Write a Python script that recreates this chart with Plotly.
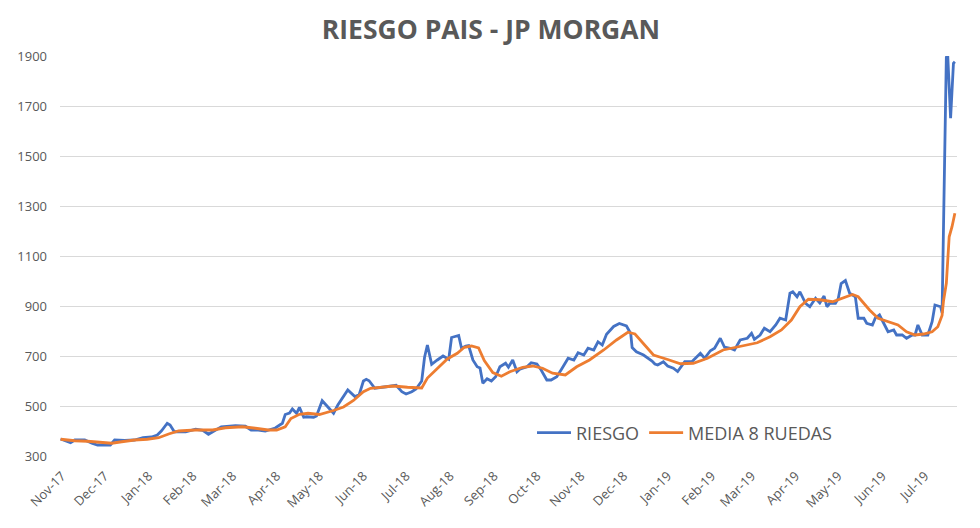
import plotly.graph_objects as go

# ---- data ----
riesgo_dates = [
    "2017-10-31", "2017-11-03", "2017-11-07", "2017-11-10", "2017-11-17", "2017-11-22", "2017-11-26",
    "2017-12-05", "2017-12-08", "2017-12-15", "2017-12-22", "2017-12-28",
    "2018-01-03", "2018-01-07", "2018-01-10", "2018-01-14", "2018-01-16", "2018-01-19", "2018-01-27",
    "2018-02-03", "2018-02-08", "2018-02-12", "2018-02-17", "2018-02-21",
    "2018-03-03", "2018-03-10", "2018-03-14", "2018-03-19", "2018-03-24", "2018-03-31",
    "2018-04-05", "2018-04-07", "2018-04-10", "2018-04-12", "2018-04-15", "2018-04-17", "2018-04-20",
    "2018-04-22", "2018-04-27", "2018-04-29",
    "2018-05-03", "2018-05-07", "2018-05-11", "2018-05-14", "2018-05-18", "2018-05-21", "2018-05-26",
    "2018-05-29",
    "2018-06-01", "2018-06-03", "2018-06-05", "2018-06-09", "2018-06-17", "2018-06-24", "2018-06-28",
    "2018-07-01", "2018-07-05", "2018-07-08", "2018-07-12", "2018-07-14", "2018-07-16", "2018-07-19",
    "2018-07-23", "2018-07-27", "2018-07-31",
    "2018-08-02", "2018-08-07", "2018-08-09", "2018-08-12", "2018-08-14", "2018-08-17", "2018-08-20",
    "2018-08-22", "2018-08-24", "2018-08-27", "2018-08-30",
    "2018-09-02", "2018-09-05", "2018-09-09", "2018-09-11", "2018-09-14", "2018-09-17", "2018-09-19",
    "2018-09-24", "2018-09-27",
    "2018-10-01", "2018-10-04", "2018-10-08", "2018-10-11", "2018-10-15", "2018-10-18", "2018-10-23",
    "2018-10-27", "2018-10-30",
    "2018-11-03", "2018-11-06", "2018-11-10", "2018-11-13", "2018-11-16", "2018-11-19", "2018-11-24",
    "2018-11-28",
    "2018-12-03", "2018-12-06", "2018-12-07", "2018-12-10", "2018-12-15", "2018-12-21", "2018-12-23",
    "2018-12-25", "2018-12-29",
    "2019-01-01", "2019-01-05", "2019-01-08", "2019-01-13", "2019-01-18", "2019-01-24", "2019-01-27",
    "2019-01-31",
    "2019-02-03", "2019-02-07", "2019-02-10", "2019-02-14", "2019-02-17", "2019-02-21", "2019-02-26",
    "2019-03-01", "2019-03-03", "2019-03-07", "2019-03-10", "2019-03-14", "2019-03-18", "2019-03-21",
    "2019-03-25", "2019-03-28", "2019-03-30",
    "2019-04-02", "2019-04-04", "2019-04-08", "2019-04-11", "2019-04-15", "2019-04-18", "2019-04-21",
    "2019-04-23", "2019-04-25", "2019-04-29",
    "2019-05-01", "2019-05-03", "2019-05-06", "2019-05-09", "2019-05-13", "2019-05-15", "2019-05-19",
    "2019-05-21", "2019-05-25", "2019-05-27", "2019-05-30",
    "2019-06-02", "2019-06-05", "2019-06-09", "2019-06-11", "2019-06-15", "2019-06-18", "2019-06-22",
    "2019-06-24", "2019-06-26", "2019-06-29",
    "2019-07-03", "2019-07-06", "2019-07-08", "2019-07-12", "2019-07-13", "2019-07-16", "2019-07-17",
    "2019-07-19", "2019-07-21", "2019-07-22",
]
riesgo_values = [
    368, 362, 353, 364, 364, 351, 344,
    344, 364, 362, 364, 373,
    376, 384, 401, 431, 424, 397, 397,
    407, 403, 387, 404, 417,
    421, 419, 404, 404, 400, 412,
    431, 466, 472, 488, 471, 495, 455,
    457, 455, 460,
    521, 497, 471, 504, 537, 564, 538,
    545,
    600, 607, 601, 571, 577, 583, 557,
    548, 557, 568, 600, 695, 744, 667,
    684, 700, 687,
    774, 782, 731, 740, 742, 684, 657,
    652, 591, 609, 600,
    617, 657, 671, 655, 684, 637, 647,
    657, 673,
    668, 644, 604, 604, 617, 644, 691,
    684, 713,
    704, 731, 724, 757, 744, 787, 818,
    830,
    820, 790, 734, 717, 704, 680, 668,
    664, 677,
    660, 651, 638, 677, 677, 711, 691,
    721,
    731, 771, 735, 731, 724, 764, 771,
    791, 767, 784, 811, 797, 824, 851,
    844, 951, 957,
    937, 957, 911, 897, 931, 912, 940,
    897, 911, 911,
    930, 990, 1002, 951, 937, 851, 851,
    831, 824, 851, 864,
    831, 797, 804, 784, 784, 771, 784,
    784, 824, 784,
    784, 837, 904, 897, 872, 1895, 1900,
    1651, 1871, 1877,
]

media_dates = [
    "2017-10-31", "2017-11-10", "2017-11-19", "2017-11-30", "2017-12-06", "2017-12-13", "2017-12-22",
    "2017-12-31", "2018-01-08", "2018-01-15", "2018-01-22", "2018-02-03", "2018-02-15", "2018-02-24",
    "2018-03-08", "2018-03-17", "2018-03-26", "2018-04-01", "2018-04-07", "2018-04-11", "2018-04-17",
    "2018-04-23", "2018-05-01", "2018-05-11", "2018-05-18", "2018-05-25", "2018-06-01", "2018-06-06",
    "2018-06-15", "2018-06-22", "2018-07-02", "2018-07-12", "2018-07-16", "2018-07-23", "2018-07-30",
    "2018-08-06", "2018-08-11", "2018-08-16", "2018-08-21", "2018-08-25", "2018-08-31", "2018-09-06",
    "2018-09-12", "2018-09-21", "2018-09-28", "2018-10-05", "2018-10-12", "2018-10-21", "2018-10-29",
    "2018-11-07", "2018-11-17", "2018-11-26", "2018-12-04", "2018-12-09", "2018-12-15", "2018-12-22",
    "2019-01-01", "2019-01-10", "2019-01-19", "2019-01-29", "2019-02-09", "2019-02-21", "2019-03-05",
    "2019-03-14", "2019-03-22", "2019-03-29", "2019-04-04", "2019-04-10", "2019-04-18", "2019-04-27",
    "2019-05-04", "2019-05-11", "2019-05-15", "2019-05-18", "2019-05-23", "2019-05-29", "2019-06-05",
    "2019-06-12", "2019-06-18", "2019-06-24", "2019-06-30", "2019-07-06", "2019-07-10", "2019-07-13",
    "2019-07-14", "2019-07-16", "2019-07-18", "2019-07-20", "2019-07-22",
]
media_values = [
    367, 361, 359, 353, 351, 357, 364,
    367, 373, 388, 400, 404, 404, 413,
    417, 411, 404, 404, 417, 450, 467,
    471, 466, 482, 496, 522, 557, 571,
    577, 580, 575, 572, 612, 648, 688,
    711, 735, 740, 732, 682, 634, 619,
    637, 655, 660, 651, 631, 624, 657,
    684, 724, 764, 795, 788, 751, 704,
    686, 669, 671, 691, 724, 737, 753,
    777, 804, 844, 897, 927, 925, 917,
    931, 946, 937, 917, 884, 851, 837,
    824, 797, 784, 788, 797, 817, 862,
    920, 991, 1177, 1217, 1271,
]

y_ticks = [300, 500, 700, 900, 1100, 1300, 1500, 1700, 1900]

TEXT = "#595959"
GRID = "#D9D9D9"

fig = go.Figure()
fig.add_trace(go.Scatter(
    x=riesgo_dates, y=riesgo_values, mode="lines", name="RIESGO",
    line=dict(color="#4472C4", width=2.8),
))
fig.add_trace(go.Scatter(
    x=media_dates, y=media_values, mode="lines", name="MEDIA 8 RUEDAS",
    line=dict(color="#ED7D31", width=2.8),
))

fig.update_layout(
    width=980, height=528,
    margin=dict(l=60, r=23, t=56, b=72),
    paper_bgcolor="white", plot_bgcolor="white",
    font=dict(family="Open Sans", color=TEXT),
    title=dict(
        text="<b>RIESGO PAIS - JP MORGAN</b>",
        font=dict(family="Open Sans", size=26.5, color=TEXT),
        x=0.501, xref="container", xanchor="center",
        y=0.943, yref="container", yanchor="middle",
    ),
    showlegend=True,
    legend=dict(
        orientation="h", x=0.5262, xanchor="left", y=0.0575, yanchor="middle",
        font=dict(family="Open Sans", size=18, color=TEXT),
        bgcolor="rgba(0,0,0,0)",
        itemwidth=34,
    ),
    xaxis=dict(
        type="date",
        range=["2017-10-30 14:00", "2019-07-23 12:00"],
        tick0="2017-11-01", dtick="M1", tickformat="%b-%y",
        tickangle=-45, showgrid=False, zeroline=False,
        showline=False, ticks="",
        ticklabelstandoff=9,
        tickfont=dict(family="Open Sans", size=13, color=TEXT),
    ),
    yaxis=dict(
        range=[300, 1900], tickvals=y_ticks,
        showgrid=True, gridcolor=GRID, gridwidth=1,
        zeroline=False, showline=False, ticks="",
        ticklabelstandoff=12,
        tickfont=dict(family="Open Sans", size=13, color=TEXT),
    ),
)

fig.write_html(
    "out.html",
    config={"displayModeBar": False},
    post_script="document.body.style.margin='0';document.body.style.overflow='hidden';",
)
